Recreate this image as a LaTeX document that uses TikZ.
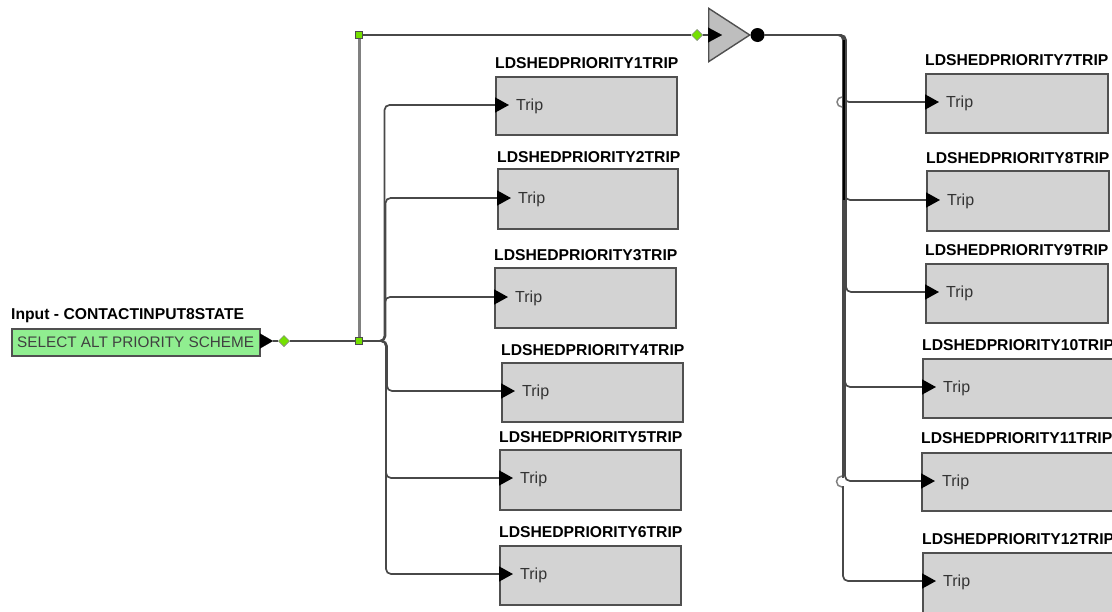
\documentclass[tikz,border=0pt]{standalone}
\usepackage{fontspec}
\setmainfont{Liberation Sans}
\usetikzlibrary{arrows.meta,shapes.geometric}
\definecolor{boxgray}{HTML}{D3D3D3}
\definecolor{edgegray}{HTML}{505050}
\definecolor{wire}{HTML}{484848}
\definecolor{inputgreen}{HTML}{90EE90}
\definecolor{dotgreen}{HTML}{74E000}
\definecolor{gategray}{HTML}{BEBEBE}
\tikzset{
  x=1pt,y=-1pt,
  pintip/.tip={Triangle[length=14pt,width=15pt,color=black]},
  blockbox/.style={draw=edgegray,line width=1.8pt,fill=boxgray,rectangle,inner sep=0pt,anchor=north west},
  blocktitle/.style={font=\fontsize{15.7}{16}\selectfont\bfseries,text=black,anchor=west,inner sep=0pt},
  triplabel/.style={font=\fontsize{16}{16}\selectfont,text=black!80,anchor=west,inner sep=0pt},
  conn/.style={draw=wire,line width=1.7pt,rounded corners=5pt,-pintip},
  plainwire/.style={draw=wire,line width=1.8pt},
  greywire/.style={draw=gray,line width=3pt},
  squaredot/.style={draw=black!70,fill=dotgreen,line width=.8pt,rectangle,minimum size=7pt,inner sep=0pt},
  diamonddot/.style={draw=black!45,fill=dotgreen,line width=.5pt,diamond,minimum size=11pt,inner sep=0pt},
  jumparc/.style={draw=gray,line width=1.5pt},
}
\begin{document}
\begin{tikzpicture}
\useasboundingbox (0,0) rectangle (1112,611);
% blocks: name / left / top / width / height / title y / pin y
\foreach \n/\l/\t/\w/\h/\ty/\py/\tt in {
  1/495/76/181/58/63/105/LDSHEDPRIORITY1TRIP,
  2/497/168/180/60/157/198/LDSHEDPRIORITY2TRIP,
  3/494/267/181/60/255/297/LDSHEDPRIORITY3TRIP,
  4/501/362/181/59/350/391/LDSHEDPRIORITY4TRIP,
  5/499/449/181/60/437/478/LDSHEDPRIORITY5TRIP,
  6/499/545/181/59/532/574/LDSHEDPRIORITY6TRIP,
  7/925/73/182/59/60/102/LDSHEDPRIORITY7TRIP,
  8/926/170/182/60/158/200/LDSHEDPRIORITY8TRIP,
  9/925/263/182/59/250/292/LDSHEDPRIORITY9TRIP,
  10/922/358/195/59/345/387/LDSHEDPRIORITY10TRIP,
  11/921/452/195/58/438/481/LDSHEDPRIORITY11TRIP,
  12/922/552/195/70/539/581/LDSHEDPRIORITY12TRIP}{
  \node[blockbox,minimum width=\w pt,minimum height=\h pt] (b\n) at (\l,\t) {};
  \node[blocktitle] (t\n) at (\l,\ty+0.5) {\tt};
  \coordinate (pin\n) at (\l+14,\py);
  \node[triplabel] (trip\n) at (\l+21,\py+1) {Trip};
}
% input block
\node[draw=edgegray,line width=1.6pt,fill=inputgreen,rectangle,inner sep=0pt,anchor=north west,
  minimum width=248pt,minimum height=27pt] (inp) at (11,328) {};
\node[font=\fontsize{15.3}{16}\selectfont,text=black!75,inner sep=0pt,anchor=west] (inpt) at (17,342.5) {SELECT ALT PRIORITY SCHEME};
\node[blocktitle] (inptitle) at (11,316) {Input - CONTACTINPUT8STATE};
% gate
\node[draw=edgegray,line width=1.4pt,fill=gategray,isosceles triangle,isosceles triangle apex angle=66,
  inner sep=0pt,minimum height=41pt,anchor=apex] (gate) at (751,35) {};
\node[fill=black,circle,inner sep=0pt,minimum size=14pt] (out) at (757.5,35) {};
\node[diamonddot] (d2) at (697,35) {};
\node[squaredot] (j2) at (359,35) {};
\node[squaredot] (j1) at (359,341) {};
\node[diamonddot] (d1) at (284,341) {};
\coordinate (gin) at (722,35);
\coordinate (inpout) at (273,341);
% wires
\draw[greywire] (j1) -- (j2);
\draw[plainwire] (j2) -- (d2);
\draw[plainwire] (d2) -- (gate.left corner |- d2);
\draw[draw=black,-pintip,line width=.1pt] (gate.left corner |- d2) -- (gin);
\draw[draw=black,-{Triangle[length=13pt,width=15pt,color=black]},line width=.1pt] (inp.east |- inpout) -- (inpout);
\draw[plainwire] (inpout) -- (d1);
\draw[plainwire] (d1) -- (j1);
\node[diamonddot] at (d1) {};
\node[diamonddot] at (d2) {};
\node[squaredot] at (j1) {};
\node[squaredot] at (j2) {};
% left group
\foreach \k/\bx in {1/384.5,2/385.5,3/385,4/387,5/386,6/386}{
  \draw[conn] (j1.east) -- (\bx,341) -- (\bx,0 |- pin\k) -- (pin\k);
}
% right group
\draw[conn] (out.east) -- (844,35) -- (844,102) -- (pin7);
\foreach \k/\bx in {8/845,9/846,10/845,11/845}{
  \draw[conn] (out.east) -- (\bx,35) -- (\bx,0 |- pin\k) -- (pin\k);
}
\draw[conn] (out.east) -- (843,35) -- (843,581) -- (pin12);
\draw[line width=2.8pt,draw=black] (844,40) -- (844,200);
% line jumps
\draw[jumparc] (842,107) arc[start angle=90,end angle=270,radius=5];
\draw[draw=white,line width=2.6pt] (842.8,477.5) -- (842.8,485.5);
\draw[jumparc] (842,487) arc[start angle=90,end angle=270,radius=5.5];
\end{tikzpicture}
\end{document}
